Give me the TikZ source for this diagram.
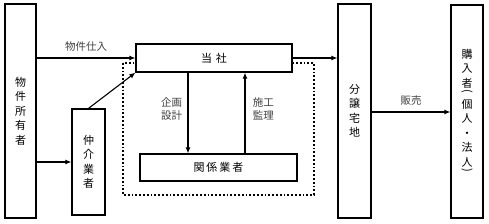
\documentclass[tikz,border=0pt]{standalone}
\usepackage{fontspec}
\setmainfont{Noto Sans CJK JP}
\usetikzlibrary{arrows.meta, positioning}
\newcommand{\vparen}[1]{\rotatebox[origin=c]{-90}{\fontsize{11}{11}\selectfont #1}}
\tikzset{
    % Box styles
    tallbox/.style={
        rectangle,
        draw,
        line width=1.2pt,
        fill=white,
        inner sep=0pt,
        align=center,
        font=\fontsize{11}{14.5}\selectfont
    },
    widebox/.style={
        rectangle,
        draw,
        line width=1.2pt,
        fill=white,
        inner sep=0pt,
        font=\fontsize{11}{14}\selectfont
    },
    % Label style
    flowlabel/.style={
        align=center,
        text=black!75,
        font=\fontsize{10.5}{13.5}\selectfont
    },
    % Arrow styles
    myarrow/.style={
        -{Latex[length=6pt,width=5pt]},
        line width=1.1pt
    },
    grouprect/.style={
        dotted,
        line width=1.8pt
    }
}
\begin{document}
\begin{tikzpicture}[x=1pt,y=-1pt]
    \useasboundingbox (0,0) rectangle (489,223);

    % Group frame
    \draw[grouprect] (123,63) rectangle (314,195);

    % Boxes
    \node[tallbox, minimum width=31pt, minimum height=214pt] (owner) at (20.5,111) {物\\件\\所\\有\\者};
    \node[tallbox, minimum width=33pt, minimum height=106pt] (agent) at (88.5,162) {仲\\介\\業\\者};
    \node[widebox, minimum width=156pt, minimum height=28pt] (company) at (214,58) {当\hspace{4pt}社};
    \node[widebox, minimum width=157pt, minimum height=27pt] (partners) at (218.5,167.5) {関\hspace{2pt}係\hspace{2pt}業\hspace{2pt}者};
    \node[tallbox, minimum width=33pt, minimum height=214pt] (lots) at (354.5,111) {分\\譲\\宅\\地};
    \node[tallbox, minimum width=32pt, minimum height=213pt] (buyer) at (467,111.5)
        {購\\入\\者\\[-7pt]\vparen{(}\\[-1pt]個\\人\\・\\法\\人\\[-7pt]\vparen{)}};

    % Helper positions
    \coordinate (plan) at (188,0);
    \coordinate (super) at (245,0);

    % Arrows
    \draw[myarrow] (owner.east |- company) -- (company.west)
        node[flowlabel, midway, above=3pt] (buy) {物件仕入};
    \draw[myarrow] (owner.east |- agent) -- (agent.west);
    \draw[myarrow] (agent.north) -- (company.south west);
    \draw[myarrow] (company.south -| plan) -- (partners.north -| plan)
        node[flowlabel, pos=0.45, left=2pt] (planlabel) {企画\\設計};
    \draw[myarrow] (partners.north -| super) -- (company.south -| super)
        node[flowlabel, pos=0.55, right=4pt] (superlabel) {施工\\監理};
    \draw[myarrow] (company.east) -- (lots.west |- company);
    \draw[myarrow] (lots.east |- 0,112) -- (buyer.west |- 0,112)
        node[flowlabel, midway, above=3pt] (sale) {販売};
\end{tikzpicture}
\end{document}
